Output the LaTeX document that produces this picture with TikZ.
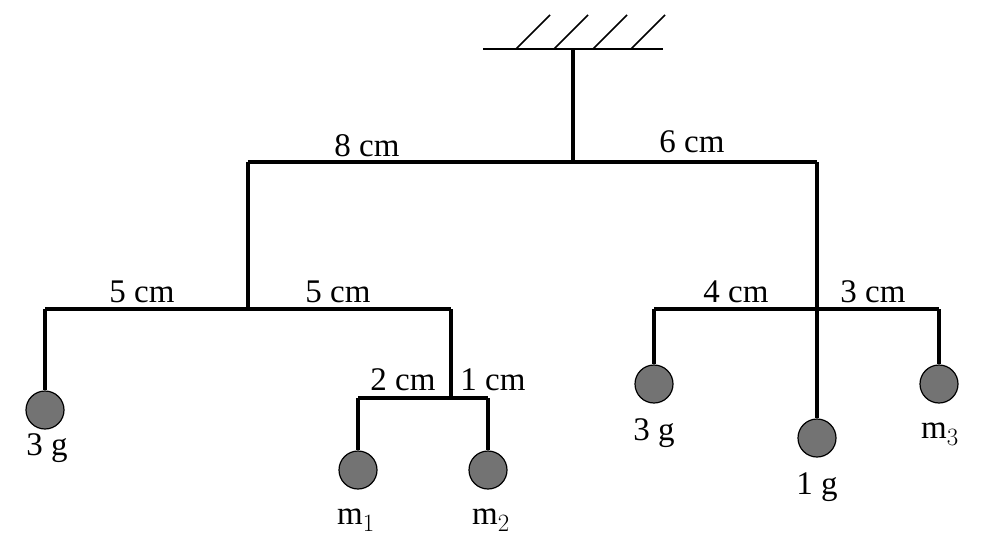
\documentclass[tikz,border=0pt]{standalone}
\usepackage{fontspec}
\setmainfont{Liberation Serif}
\begin{document}
\begin{tikzpicture}[x=1pt,y=-1pt,
  rod/.style={line width=3.2pt},
  ball/.style={circle,draw,line width=1.2pt,fill=black!55,minimum size=38pt,inner sep=0pt},
  lab/.style={font=\fontsize{33}{33}\selectfont,inner sep=0pt}]
\useasboundingbox (0,0) rectangle (984,559);
% ceiling
\coordinate (cl) at (483,49); \coordinate (cr) at (663,49);
\draw[line width=2.6pt] (cl) -- (cr);
\foreach \x in {516,554,593,631} \draw[line width=1.5pt] (\x,49) -- (\x+34,15);
\coordinate (top) at (573,49);
\coordinate (p0) at (573,162);
\draw[rod] (top) -- (p0);
% main bar
\coordinate (a) at (248,162); \coordinate (b) at (817,162);
\draw[rod] (a) -- (b);
% left branch
\coordinate (a2) at (248,309); \coordinate (l1) at (45,309); \coordinate (l2) at (451,309);
\draw[rod] (a) -- (a2); \draw[rod] (l1) -- (l2);
\node[ball] (b1) at (45,410) {};
\draw[rod] (l1) -- (b1);
\node[lab] at (47,448) {3 g};
\coordinate (l3) at (451,398); \coordinate (s1) at (358,398); \coordinate (s2) at (488,398);
\draw[rod] (l2) -- (l3); \draw[rod] (s1) -- (s2);
\node[ball] (m1) at (358,470) {};
\node[ball] (m2) at (488,470) {};
\draw[rod] (s1) -- (m1); \draw[rod] (s2) -- (m2);
\node[lab] at (356,520) {m$_1$};
\node[lab] at (491,520) {m$_2$};
% right branch
\node[ball] (b4) at (817,438) {};
\draw[rod] (b) -- (b4);
\node[lab] at (817,487) {1 g};
\coordinate (r1) at (654,309); \coordinate (r2) at (939,309);
\draw[rod] (r1) -- (r2);
\node[ball] (b3) at (654,384) {};
\node[ball] (m3) at (939,384) {};
\draw[rod] (r1) -- (b3); \draw[rod] (r2) -- (m3);
\node[lab] at (654,433) {3 g};
\node[lab] at (940,434) {m$_3$};
% labels
\node[lab] at (367,146) {8 cm};
\node[lab] at (692,142) {6 cm};
\node[lab] at (142,292) {5 cm};
\node[lab] at (338,292) {5 cm};
\node[lab] at (736,292) {4 cm};
\node[lab] at (873,292) {3 cm};
\node[lab] at (403,380) {2 cm};
\node[lab] at (493,380) {1 cm};
\end{tikzpicture}
\end{document}
